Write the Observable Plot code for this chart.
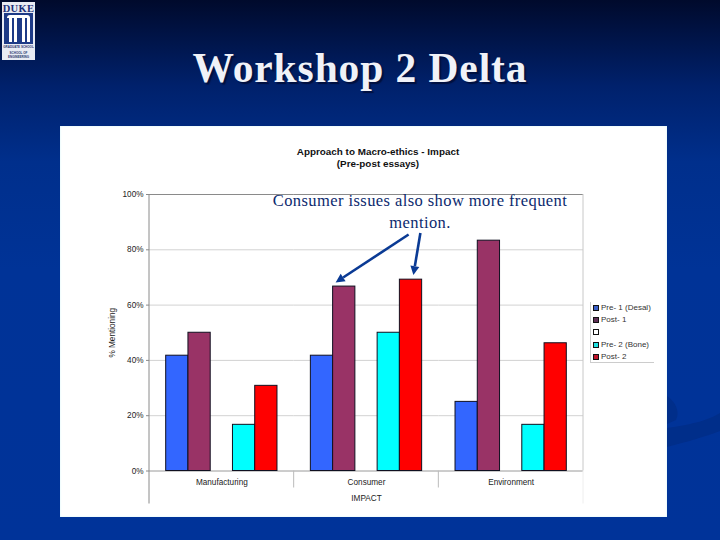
<!DOCTYPE html>
<html>
<head>
<meta charset="utf-8">
<script src="https://cdn.jsdelivr.net/npm/d3@7"></script>
<script src="https://cdn.jsdelivr.net/npm/@observablehq/plot@0.6"></script>
<style>
html,body{margin:0;padding:0;background:#003399;}
#slide{position:relative;width:720px;height:540px;overflow:hidden;background:linear-gradient(180deg,#000a2c 0%,#00216c 16%,#002f8c 30%,#003397 50%,#003399 100%);font-family:"Liberation Sans",Arial,sans-serif;}
#swoosh{position:absolute;left:0;top:0;}
#logo{position:absolute;left:2px;top:2px;width:33px;height:58px;background:#e8ebf3;overflow:hidden;}
#logo .name{position:absolute;left:0;right:0;top:1px;text-align:center;font:bold 10.5px "Liberation Serif",serif;color:#1c2f78;letter-spacing:.3px;}
#logo .door{position:absolute;left:2px;top:11px;width:29px;height:31px;background:#1d3a86;}
#logo .door i{position:absolute;top:5px;width:2.5px;height:24px;background:#fff;}
#logo .door b{position:absolute;left:3px;right:3px;top:2px;height:3px;background:#fff;border-radius:6px 6px 0 0;}
#logo .small{position:absolute;left:0;right:0;text-align:center;font:bold 3px "Liberation Sans",sans-serif;color:#28356f;line-height:3.6px;white-space:nowrap;}
#title{position:absolute;left:0;width:720px;text-align:center;top:43px;font:bold 41.5px/50px "Liberation Serif",serif;color:#f0f2f8;letter-spacing:.9px;text-shadow:2px 2px 1px #00103f;}
#panel{position:absolute;left:60px;top:126px;width:607px;height:391px;background:#fff;box-shadow:inset 0 0 2px #c8f2f8;}
#chartTitle{position:absolute;left:228px;width:300px;text-align:center;top:146px;font:bold 9.9px/12px "Liberation Sans",Arial,sans-serif;color:#111;}
#plot{position:absolute;left:0;top:0;}
#note{position:absolute;left:240px;width:360px;text-align:center;top:190px;font:16.5px/22px "Liberation Serif",serif;color:#0c2a6e;letter-spacing:.42px;}
#legend{position:absolute;left:590px;top:302px;width:64px;height:61px;border-left:1px solid #ccc;border-bottom:1px solid #ccc;box-sizing:border-box;font:8px/12.2px "Liberation Sans",Arial,sans-serif;color:#333;}
#legend div{position:relative;height:12.2px;padding-left:10px;white-space:nowrap;}
#legend span{position:absolute;left:2px;top:3px;width:4px;height:4px;border:1px solid #111;}
</style>
</head>
<body>
<div id="slide">
  <svg id="swoosh" width="720" height="540"><path d="M667 428C695 424 708 420 720 413V431C704 437 690 441 667 447Z" fill="#002e8a"/><path d="M667 396C676 402 680 412 676 420L667 424Z" fill="#002e8a"/></svg>
  <div id="logo"><div class="name">DUKE</div><div class="door"><b></b><i style="left:5px"></i><i style="left:10px"></i><i style="left:18px"></i><i style="left:23px"></i></div><div class="small" style="top:44px">GRADUATE SCHOOL</div><div class="small" style="top:50px">SCHOOL OF<br>ENGINEERING</div></div>
  <div id="title">Workshop 2 Delta</div>
  <div id="panel"></div>
  <div id="chartTitle">Approach to Macro-ethics - Impact<br>(Pre-post essays)</div>
  <div id="plot"></div>
  <div id="note">Consumer issues also show more frequent<br>mention.</div>
  <div id="legend"></div>
</div>
<script>
const categories = ["Manufacturing", "Consumer", "Environment"];
const seriesNames = ["Pre- 1 (Desal)", "Post- 1", "", "Pre- 2 (Bone)", "Post- 2"];
const barColors = ["#3366ff", "#993366", "#ffffff", "#00ffff", "#ff0000"];
const legendColors = ["#3a5fc8", "#5e2f55", "#ffffff", "#1fe0e0", "#c0142a"];
const pre1 = [41.7, 41.7, 25];
const post1 = [50, 66.7, 83.3];
const pre2 = [16.7, 50, 16.7];
const post2 = [30.8, 69.2, 46.2];
const yTicks = [0, 20, 40, 60, 80, 100];

const rows = [];
[[0, pre1], [1, post1], [3, pre2], [4, post2]].forEach(([s, vals]) =>
  vals.forEach((v, i) => rows.push({category: categories[i], series: seriesNames[s], value: v})));

const callouts = [
  {category: "Consumer", series: "Post- 1", value: 68, inBar: 3, tail: [73, -48]},
  {category: "Consumer", series: "Post- 2", value: 70.7, inBar: 14, tail: [7, -42]}
];

// A function mark is called once per facet; draw only in the first one.
function once(draw) {
  let done = false;
  return (index, scales, values, dim) => {
    const g = d3.create("svg:g");
    if (!done) { done = true; draw(g, scales, dim); }
    return g.node();
  };
}
const furniture = once((g, scales, dim) => {
  const top = scales.y(100), base = scales.y(0), foot = base + 33;
  const left = scales.fx(categories[0]);
  const step = scales.fx(categories[1]) - left;
  const right = left + step * categories.length;
  g.append("line").attr("x1", left).attr("x2", left).attr("y1", top).attr("y2", foot).attr("stroke", "#8a8a8a");
  g.append("line").attr("x1", right).attr("x2", right).attr("y1", top).attr("y2", base).attr("stroke", "#c8c8c8");
  g.append("line").attr("x1", right).attr("x2", right).attr("y1", base).attr("y2", foot).attr("stroke", "#eeeeee");
  categories.slice(1).forEach(c => {
    const x = scales.fx(c);
    g.append("line").attr("x1", x).attr("x2", x).attr("y1", base).attr("y2", base + 17).attr("stroke", "#bbbbbb");
  });
});
const arrows = once((g, scales) => {
  callouts.forEach(c => {
    const tipX = scales.fx(c.category) - scales.fx(categories[0]) + scales.x(c.series) + c.inBar, tipY = scales.y(c.value);
    const tx = tipX + c.tail[0], ty = tipY + c.tail[1];
    const a = Math.atan2(ty - tipY, tx - tipX), L = 9, W = 4.5;
    const bx = tipX + L * Math.cos(a), by = tipY + L * Math.sin(a);
    g.append("line").attr("x1", tx).attr("y1", ty).attr("x2", bx).attr("y2", by).attr("stroke", "#0a3a94").attr("stroke-width", 2.6);
    g.append("polygon").attr("fill", "#0a3a94").attr("points", [
      [tipX, tipY],
      [bx + W * Math.sin(a), by - W * Math.cos(a)],
      [bx - W * Math.sin(a), by + W * Math.cos(a)]
    ].join(" "));
  });
});

const chart = Plot.plot({
  width: 720, height: 540,
  marginLeft: 149, marginRight: 137, marginTop: 194, marginBottom: 69.5,
  style: {background: "transparent", fontFamily: "'Liberation Sans',Arial,sans-serif", fontSize: "8.2px", color: "#222"},
  fx: {domain: categories, padding: 0, round: false},
  x: {domain: seriesNames, paddingInner: 0, paddingOuter: 0.75, round: false, axis: null},
  y: {domain: [0, 100]},
  color: {domain: seriesNames, range: barColors},
  marks: [
    Plot.gridY(yTicks, {stroke: "#d2d2d2", strokeOpacity: 1}),
    Plot.ruleY([100], {stroke: "#8a8a8a"}),
    Plot.ruleY([0], {stroke: "#b0b0b0"}),
    furniture,
    Plot.barY(rows, {fx: "category", x: "series", y: "value", fill: "series", stroke: "#101020", strokeWidth: 1}),
    Plot.axisY({ticks: yTicks, tickFormat: d => d + "%", tickSize: 3, tickPadding: 3, label: "% Mentioning", labelAnchor: "center", labelOffset: 40, labelArrow: "none", stroke: "#8a8a8a"}),
    Plot.axisFx({anchor: "bottom", tickSize: 0, tickPadding: 8, label: "IMPACT", labelAnchor: "center", labelOffset: 30, labelArrow: "none"}),
    arrows
  ]
});
document.getElementById("plot").appendChild(chart);

const legend = d3.select("#legend");
seriesNames.forEach((name, i) => {
  const row = legend.append("div").text(name);
  row.append("span").style("background", legendColors[i]);
});
</script>
</body>
</html>
